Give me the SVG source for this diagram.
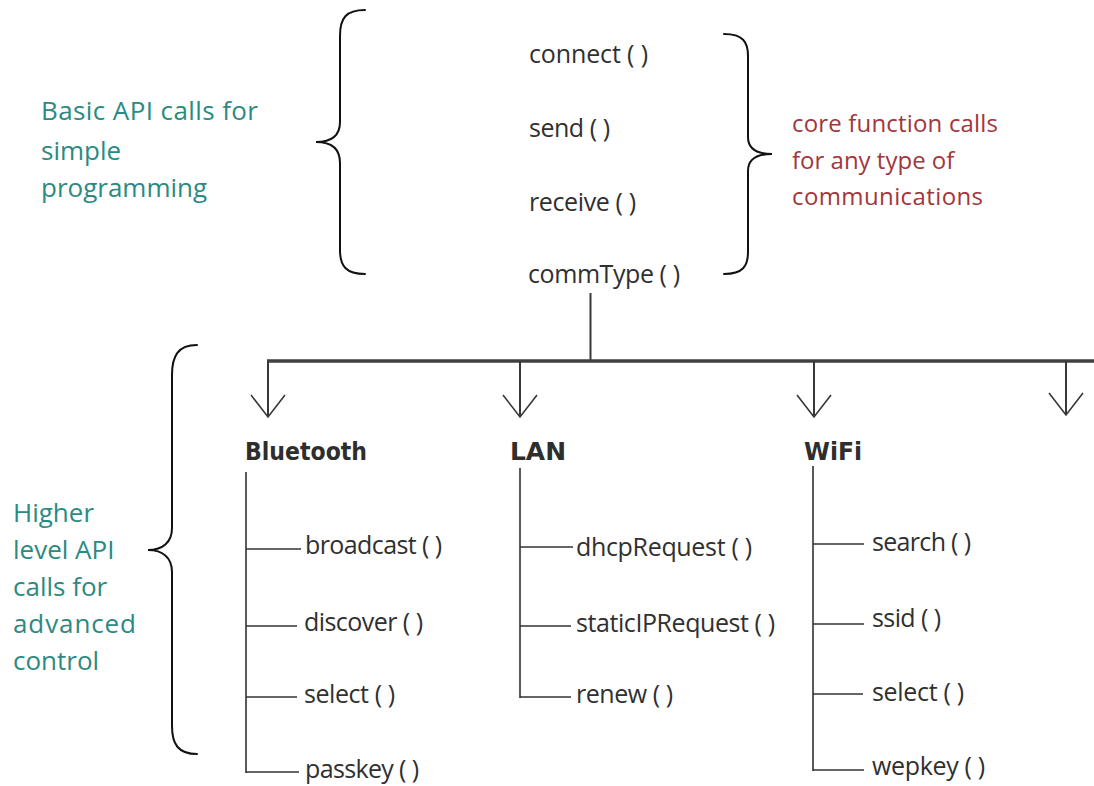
<svg xmlns="http://www.w3.org/2000/svg" width="1094" height="786" viewBox="0 0 1094 786">
  <defs>
    <style>
      .fn { font-family: "Open Sans", "Noto Sans", "Liberation Sans", sans-serif; font-size: 25px; font-weight: 500; fill: #303030; }
      .head { font-family: "DejaVu Sans", "Liberation Sans", sans-serif; font-weight: bold; font-size: 24px; fill: #2e2e2e; }
      .teal { font-family: "Open Sans", "Noto Sans", "Liberation Sans", sans-serif; font-size: 26px; font-weight: 500; fill: #2b8a82; }
      .red { font-family: "Open Sans", "Noto Sans", "Liberation Sans", sans-serif; font-size: 24px; font-weight: 500; fill: #a2363b; }
      .brace { fill: none; stroke: #111111; stroke-width: 2; stroke-linecap: round; }
      .bus { stroke: #404040; stroke-width: 3.5; fill: none; }
      .drop { stroke: #383838; stroke-width: 2; fill: none; }
      .head-v { stroke: #383838; stroke-width: 1.6; fill: none; stroke-linejoin: miter; }
      .trunk { stroke: #5a5a5a; stroke-width: 2; fill: none; }
      .branch { stroke: #333333; stroke-width: 1.6; fill: none; }
    </style>
  </defs>

  <rect x="0" y="0" width="1094" height="786" fill="#ffffff"/>

  <!-- braces and their captions -->
  <g id="basic-brace">
    <path class="brace" d="M365,10 C346,10 340,18 340,36 L340,122 C340,135 332,142 316,142 C332,142 340,149 340,163 L340,250 C340,266 346,274 365,274"/>
    <text class="teal" x="41" y="120" textLength="217">Basic API calls for</text>
    <text class="teal" x="41" y="160">simple</text>
    <text class="teal" x="41" y="197">programming</text>
  </g>

  <g id="core-brace">
    <path class="brace" d="M724,34 C743,34 748,42 748,56 L748,137 C748,148 756,154 772,154 C756,154 748,160 748,171 L748,252 C748,266 743,274 724,274"/>
    <text class="red" x="792" y="132" textLength="206">core function calls</text>
    <text class="red" x="792" y="169">for any type of</text>
    <text class="red" x="792" y="205" textLength="191">communications</text>
  </g>

  <g id="advanced-brace">
    <path class="brace" d="M197,345 C178,345 172,356 172,375 L172,528 C172,542 163,550 148,550 C163,550 172,558 172,572 L172,726 C172,744 178,754 197,754"/>
    <text class="teal" x="13" y="522">Higher</text>
    <text class="teal" x="13" y="559">level API</text>
    <text class="teal" x="13" y="596">calls for</text>
    <text class="teal" x="13" y="633" textLength="123">advanced</text>
    <text class="teal" x="13" y="670">control</text>
  </g>

  <!-- core calls -->
  <g id="connect"><text class="fn" x="529" y="63" textLength="119">connect ( )</text></g>
  <g id="send"><text class="fn" x="529" y="137" textLength="81">send ( )</text></g>
  <g id="receive"><text class="fn" x="529" y="211" textLength="107">receive ( )</text></g>
  <g id="commType"><text class="fn" x="528" y="283" textLength="152">commType ( )</text></g>

  <!-- connectors -->
  <g id="connectors">
    <line class="drop" x1="590.5" y1="293" x2="590.5" y2="361"/>
    <line class="bus" x1="267" y1="361" x2="1094" y2="361"/>

    <line class="drop" x1="268" y1="361" x2="268" y2="416"/>
    <polyline class="head-v" points="251,395 268,417 285,395"/>
    <line class="drop" x1="520" y1="361" x2="520" y2="416"/>
    <polyline class="head-v" points="503,395 520,417 537,395"/>
    <line class="drop" x1="814" y1="361" x2="814" y2="416"/>
    <polyline class="head-v" points="797,395 814,417 831,395"/>
    <line class="drop" x1="1066" y1="361" x2="1066" y2="414"/>
    <polyline class="head-v" points="1049,393 1066,415 1083,393"/>

    <!-- Bluetooth tree -->
    <line class="trunk" x1="246" y1="472" x2="246" y2="773"/>
    <line class="branch" x1="246" y1="549" x2="301" y2="549"/>
    <line class="branch" x1="246" y1="626" x2="297" y2="626"/>
    <line class="branch" x1="246" y1="697" x2="297" y2="697"/>
    <line class="branch" x1="246" y1="772" x2="299" y2="772"/>

    <!-- LAN tree -->
    <line class="trunk" x1="520" y1="468" x2="520" y2="698"/>
    <line class="branch" x1="520" y1="547" x2="573" y2="547"/>
    <line class="branch" x1="520" y1="626" x2="571" y2="626"/>
    <line class="branch" x1="520" y1="697" x2="571" y2="697"/>

    <!-- WiFi tree -->
    <line class="trunk" x1="813" y1="466" x2="813" y2="771"/>
    <line class="branch" x1="813" y1="544" x2="864" y2="544"/>
    <line class="branch" x1="813" y1="624" x2="864" y2="624"/>
    <line class="branch" x1="813" y1="694" x2="863" y2="694"/>
    <line class="branch" x1="813" y1="770" x2="864" y2="770"/>
  </g>

  <!-- transport headings -->
  <g id="bluetooth"><text class="head" x="245" y="460" textLength="122" lengthAdjust="spacingAndGlyphs">Bluetooth</text></g>
  <g id="lan"><text class="head" x="510" y="460" textLength="56" lengthAdjust="spacingAndGlyphs">LAN</text></g>
  <g id="wifi"><text class="head" x="804" y="460" textLength="58" lengthAdjust="spacingAndGlyphs">WiFi</text></g>

  <!-- Bluetooth calls -->
  <g id="bt-broadcast"><text class="fn" x="305" y="554" textLength="137">broadcast ( )</text></g>
  <g id="bt-discover"><text class="fn" x="304" y="631" textLength="119">discover ( )</text></g>
  <g id="bt-select"><text class="fn" x="304" y="703" textLength="91">select ( )</text></g>
  <g id="bt-passkey"><text class="fn" x="305" y="778" textLength="114">passkey ( )</text></g>

  <!-- LAN calls -->
  <g id="lan-dhcp"><text class="fn" x="576" y="556" textLength="176">dhcpRequest ( )</text></g>
  <g id="lan-static"><text class="fn" x="576" y="632" textLength="199">staticIPRequest ( )</text></g>
  <g id="lan-renew"><text class="fn" x="576" y="703" textLength="97">renew ( )</text></g>

  <!-- WiFi calls -->
  <g id="wifi-search"><text class="fn" x="872" y="551" textLength="99">search ( )</text></g>
  <g id="wifi-ssid"><text class="fn" x="872" y="627" textLength="69">ssid ( )</text></g>
  <g id="wifi-select"><text class="fn" x="872" y="701" textLength="92">select ( )</text></g>
  <g id="wifi-wepkey"><text class="fn" x="872" y="775" textLength="113">wepkey ( )</text></g>
</svg>
